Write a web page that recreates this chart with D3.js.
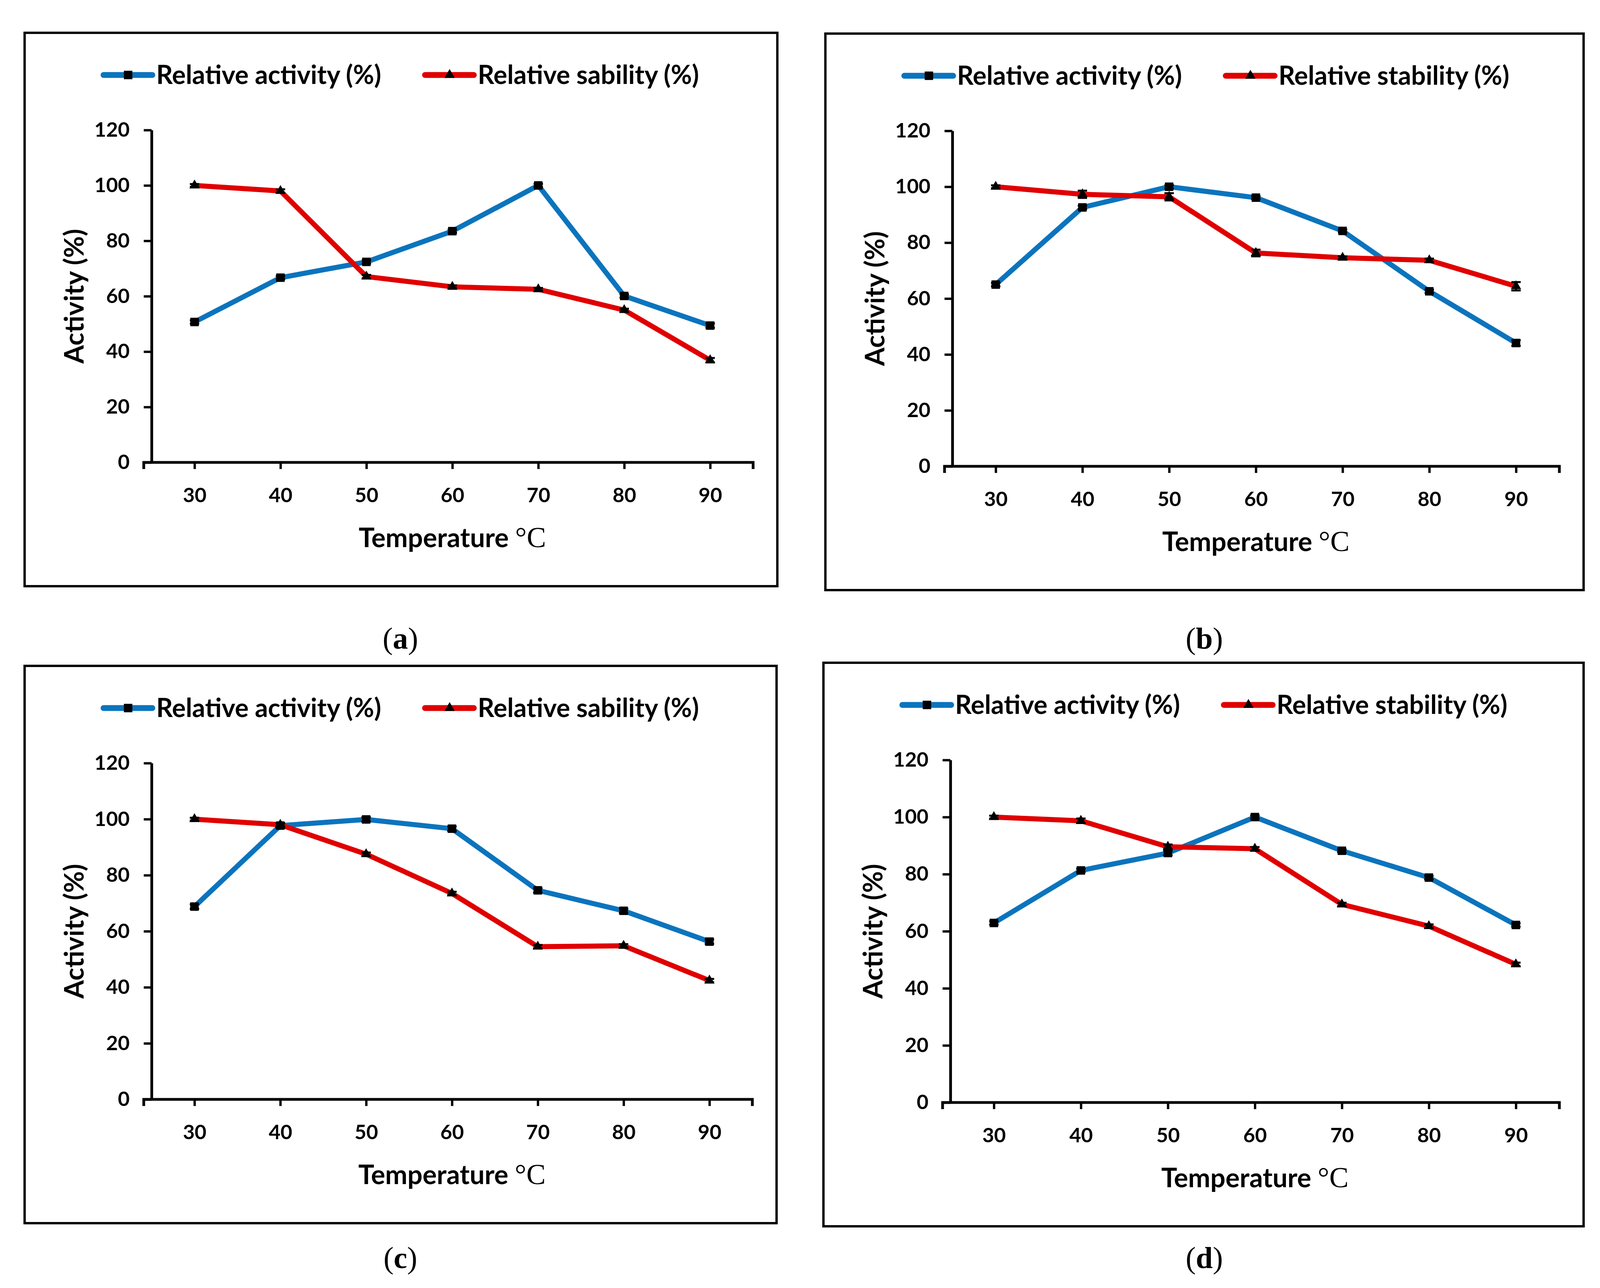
<!DOCTYPE html>
<html>
<head>
<meta charset="utf-8">
<script src="https://cdn.jsdelivr.net/npm/d3@7"></script>
<style>
body { margin: 0; background: #fff; }
svg { display: block; }
</style>
</head>
<body>
<svg id="chart" width="4106" height="3298"></svg>
<script>
// data
const temps = [30, 40, 50, 60, 70, 80, 90];
const yTicks = [0, 20, 40, 60, 80, 100, 120];

const activityA  = [50.7, 66.7, 72.4, 83.5, 100, 60.1, 49.4];
const stabilityA = [100, 98.0, 67.1, 63.4, 62.5, 55.0, 36.9];
const activityB  = [65.0, 92.6, 100, 96.1, 84.2, 62.6, 44.1];
const stabilityB = [100, 97.3, 96.4, 76.3, 74.6, 73.7, 64.4];
const activityC  = [68.8, 97.7, 99.9, 96.6, 74.6, 67.3, 56.3];
const stabilityC = [100, 98.0, 87.5, 73.5, 54.5, 54.8, 42.4];
const activityD  = [62.9, 81.3, 87.4, 100, 88.2, 78.8, 62.2];
const stabilityD = [100, 98.7, 89.6, 88.9, 69.4, 61.8, 48.4];

// error bars (small, mostly hidden by the markers)
const errActivityA  = [0.6, 0.6, 0.6, 0.6, 0.6, 0.6, 0.8];
const errStabilityA = [0.5, 0.6, 0.6, 0.5, 0.5, 0.5, 0.8];
const errActivityB  = [0.6, 0.6, 0.6, 0.5, 0.5, 0.6, 1.0];
const errStabilityB = [0.5, 1.3, 1.3, 1.2, 0.5, 0.6, 1.5];
const errActivityC  = [0.8, 0.8, 0.8, 0.8, 0.8, 0.8, 0.8];
const errStabilityC = [0.5, 0.6, 0.6, 0.6, 0.6, 0.6, 0.6];
const errActivityD  = [0.6, 0.6, 0.8, 0.6, 0.5, 0.6, 0.6];
const errStabilityD = [0.5, 0.8, 0.8, 0.6, 0.6, 0.6, 0.6];

const activityLabel = "Relative activity (%)";
const sabilityLabel = "Relative sability (%)";
const stabilityLabel = "Relative stability (%)";

const BLUE = "#0b74bd";
const RED = "#e00000";
const SANS = "Lato, 'Open Sans', sans-serif";
const SERIF = "'Liberation Serif', 'DejaVu Serif', serif";

const panels = [
	{ tag: "a", x: 63,   y: 84,   w: 1927, h: 1417, act: activityA, stab: stabilityA, eAct: errActivityA, eStab: errStabilityA, stabText: sabilityLabel,  capX: 1025, capY: 1661 },
	{ tag: "b", x: 2113, y: 86,   w: 1941, h: 1425, act: activityB, stab: stabilityB, eAct: errActivityB, eStab: errStabilityB, stabText: stabilityLabel, capX: 3083, capY: 1661 },
	{ tag: "c", x: 63,   y: 1705, w: 1925, h: 1427, act: activityC, stab: stabilityC, eAct: errActivityC, eStab: errStabilityC, stabText: sabilityLabel,  capX: 1025, capY: 3247 },
	{ tag: "d", x: 2108, y: 1697, w: 1946, h: 1443, act: activityD, stab: stabilityD, eAct: errActivityD, eStab: errStabilityD, stabText: stabilityLabel, capX: 3083, capY: 3247 }
];

const svg = d3.select("#chart");
svg.append("rect").attr("width", 4106).attr("height", 3298).attr("fill", "#fff");

const squareSym = d3.symbol().type(d3.symbolSquare).size(470);
const triSym = d3.symbol().type(d3.symbolTriangle).size(300);

panels.forEach(p => {
	let g = svg.append("g").attr("transform", `translate(${p.x},${p.y})`);

	// outer frame
	g.append("rect")
		.attr("x", 0).attr("y", 0)
		.attr("width", p.w).attr("height", p.h)
		.attr("fill", "none")
		.attr("stroke", "#000")
		.attr("stroke-width", 6);

	let left = 325, right = p.w - 62, top = 249, bottom = p.h - 317;

	let x = d3.scalePoint().domain(temps).range([left, right]).padding(0.5);
	let y = d3.scaleLinear().domain([0, 120]).range([bottom, top]);

	// y axis
	let yAxis = g.append("g")
		.attr("transform", `translate(${left},0)`)
		.call(d3.axisLeft(y).tickValues(yTicks).tickSize(20).tickSizeOuter(0).tickPadding(36));
	// x axis
	let xAxis = g.append("g")
		.attr("transform", `translate(0,${bottom})`)
		.call(d3.axisBottom(x).tickSize(17).tickSizeOuter(17).tickPadding(48));

	[yAxis, xAxis].forEach(ax => {
		ax.select(".domain").attr("stroke", "#000").attr("stroke-width", 7);
		ax.selectAll(".tick line").attr("stroke", "#000").attr("stroke-width", 6);
		ax.selectAll(".tick text")
			.attr("fill", "#000")
			.style("font-family", SANS)
			.style("font-weight", "bold")
			.style("font-size", "52px");
	});
	// extend x axis a bit left so it crosses the y axis like the original
	xAxis.select(".domain").attr("d", `M${left - 20},17V0H${right}V17`);

	// series
	let series = [
		{ vals: p.act,  err: p.eAct,  color: BLUE, sym: squareSym },
		{ vals: p.stab, err: p.eStab, color: RED,  sym: triSym }
	];
	let line = d3.line().x((d, i) => x(temps[i])).y(d => y(d));

	series.forEach(s => {
		g.append("path")
			.datum(s.vals)
			.attr("d", line)
			.attr("fill", "none")
			.attr("stroke", s.color)
			.attr("stroke-width", 13)
			.attr("stroke-linejoin", "round");
	});
	series.forEach(s => {
		// error bars
		let eb = g.append("g");
		s.vals.forEach((v, i) => {
			let cx = x(temps[i]);
			let y1 = y(v + s.err[i]), y2 = y(v - s.err[i]);
			eb.append("line").attr("x1", cx).attr("x2", cx).attr("y1", y1).attr("y2", y2)
				.attr("stroke", "#000").attr("stroke-width", 4);
			eb.append("line").attr("x1", cx - 12).attr("x2", cx + 12).attr("y1", y1).attr("y2", y1)
				.attr("stroke", "#000").attr("stroke-width", 5);
			eb.append("line").attr("x1", cx - 12).attr("x2", cx + 12).attr("y1", y2).attr("y2", y2)
				.attr("stroke", "#000").attr("stroke-width", 5);
		});
		g.append("g").selectAll("path")
			.data(s.vals)
			.join("path")
			.attr("d", s.sym)
			.attr("transform", (d, i) => `translate(${x(temps[i])},${y(d)})`)
			.attr("fill", "#000");
	});

	// legend
	let legend = [
		{ x0: 202, text: activityLabel, color: BLUE, sym: squareSym },
		{ x0: 1025, text: p.stabText, color: RED, sym: triSym }
	];
	legend.forEach(l => {
		g.append("line")
			.attr("x1", l.x0).attr("x2", l.x0 + 125)
			.attr("y1", 108).attr("y2", 108)
			.attr("stroke", l.color)
			.attr("stroke-width", 15)
			.attr("stroke-linecap", "round");
		g.append("path")
			.attr("d", l.sym)
			.attr("transform", `translate(${l.x0 + 63},108)`)
			.attr("fill", "#000");
		g.append("text")
			.text(l.text)
			.attr("x", l.x0 + 135)
			.attr("y", 131)
			.style("font-family", SANS)
			.style("font-weight", "bold")
			.style("font-size", "66px");
	});

	// axis titles
	let xt = g.append("text")
		.attr("x", (left + right) / 2)
		.attr("y", bottom + 217)
		.attr("text-anchor", "middle")
		.style("font-family", SANS)
		.style("font-weight", "bold")
		.style("font-size", "68px");
	xt.append("tspan").text("Temperature ");
	xt.append("tspan").text("°C").style("font-family", SERIF).style("font-weight", "normal").style("font-size", "74px");

	g.append("text")
		.text("Activity (%)")
		.attr("transform", `translate(127,${(top + bottom) / 2}) rotate(-90)`)
		.attr("text-anchor", "middle")
		.attr("dy", "0.35em")
		.style("font-family", SANS)
		.style("font-weight", "bold")
		.style("font-size", "68px");

	// caption
	let cap = svg.append("text")
		.attr("x", p.capX)
		.attr("y", p.capY)
		.attr("text-anchor", "middle")
		.style("font-family", SERIF)
		.style("font-size", "78px");
	cap.append("tspan").text("(");
	cap.append("tspan").text(p.tag).style("font-weight", "bold");
	cap.append("tspan").text(")");
});
</script>
</body>
</html>
